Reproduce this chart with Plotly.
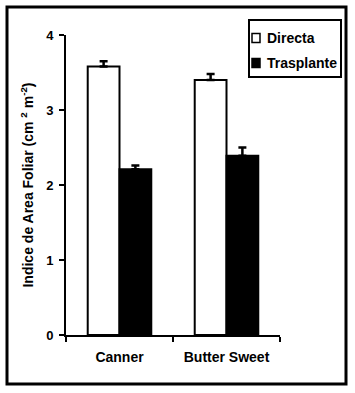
import plotly.graph_objects as go

categories = ["Canner", "Butter Sweet"]
series_names = ["Directa", "Trasplante"]
directa = [3.58, 3.40]
directa_err = [0.07, 0.08]
trasplante = [2.21, 2.39]
trasplante_err = [0.05, 0.11]
y_ticks = [0, 1, 2, 3, 4]

FONT = "Liberation Sans, Arial, sans-serif"

W, H = 355, 393
L, R, T, B = 66, 75, 35, 58
pw, ph = W - L - R, H - T - B

def px_x(x):
    return (x - L) / pw

def px_y(y):
    return (H - B - y) / ph

fills = ["white", "black"]

fig = go.Figure()
for name, vals, errs, fill in zip(series_names, [directa, trasplante],
                                   [directa_err, trasplante_err], fills):
    fig.add_trace(go.Bar(
        name=name, x=categories, y=vals,
        marker=dict(color=fill, line=dict(color="black", width=2)),
        error_y=dict(type="data", symmetric=False, array=errs,
                     arrayminus=[0] * len(errs), color="black",
                     thickness=2.5, width=4),
        showlegend=False,
    ))

# legend box (drawn to match the reference's compact legend)
shapes = [
    dict(type="rect", xref="paper", yref="paper",
         x0=px_x(7), x1=px_x(346), y0=px_y(384), y1=px_y(7),
         line=dict(color="black", width=3), fillcolor="rgba(0,0,0,0)",
         layer="below"),
    dict(type="rect", xref="paper", yref="paper",
         x0=px_x(249), x1=px_x(341), y0=px_y(77), y1=px_y(20),
         line=dict(color="black", width=2), fillcolor="white"),
]
annotations = []
legend_rows = [38, 63]
for name, fill, yc in zip(series_names, fills, legend_rows):
    shapes.append(dict(type="rect", xref="paper", yref="paper",
                       x0=px_x(252), x1=px_x(260), y0=px_y(yc + 4.5), y1=px_y(yc - 4.5),
                       line=dict(color="black", width=1.5), fillcolor=fill))
    annotations.append(dict(xref="paper", yref="paper", x=px_x(265), y=px_y(yc),
                            xanchor="left", yanchor="middle", showarrow=False,
                            text=name,
                            font=dict(family=FONT, size=14, color="black", weight="bold")))

fig.update_layout(
    width=W, height=H,
    margin=dict(l=L, r=R, t=T, b=B, autoexpand=False),
    paper_bgcolor="white", plot_bgcolor="white",
    barmode="group", bargap=0.406, bargroupgap=0,
    font=dict(family=FONT, color="black", size=13, weight="bold"),
    showlegend=False,
    shapes=shapes,
    annotations=annotations,
)

fig.update_xaxes(
    type="category", range=[-0.5, 1.5],
    showline=True, linecolor="black", linewidth=2,
    ticks="outside", tickson="boundaries", ticklen=5, tickwidth=2, tickcolor="black",
    tickfont=dict(family=FONT, size=14, color="black", weight="bold"),
    ticklabelstandoff=8,
    showgrid=False, zeroline=False,
)
fig.update_yaxes(
    range=[0, 4], tickvals=y_ticks, ticktext=[str(v) for v in y_ticks],
    showline=True, linecolor="black", linewidth=2,
    ticks="outside", ticklen=5, tickwidth=2, tickcolor="black",
    tickfont=dict(family=FONT, size=13, color="black", weight="bold"),
    ticklabelstandoff=3,
    showgrid=False, zeroline=False,
    title=dict(text="Indice de Area Foliar (cm <sup>2</sup> m<sup>-2</sup>)",
               font=dict(family=FONT, size=14, color="black", weight="bold"),
               standoff=9),
)

fig.write_html("out.html", config={"displayModeBar": False},
               post_script="document.body.style.margin='0';document.body.style.overflow='hidden';")
